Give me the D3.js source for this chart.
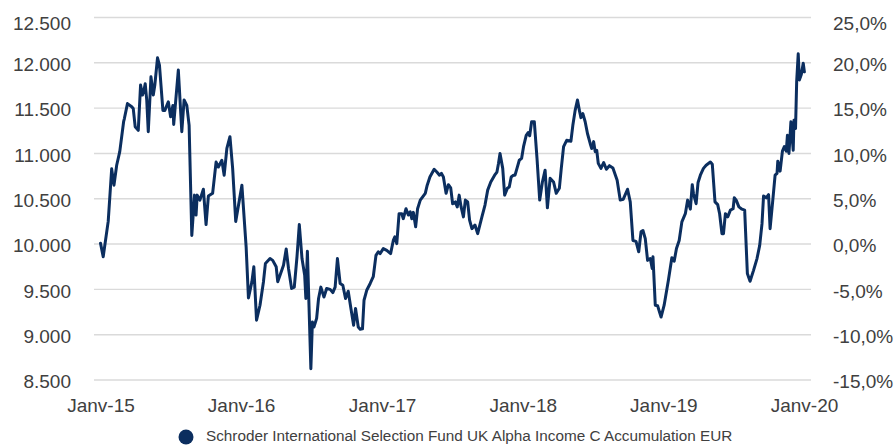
<!DOCTYPE html>
<html><head><meta charset="utf-8">
<script src="https://cdn.jsdelivr.net/npm/d3@7"></script>
<style>
body{margin:0;background:#fff}
svg{display:block;font-family:"Liberation Sans",Arial,Helvetica,sans-serif}
</style></head>
<body><svg id="chart" width="896" height="445"></svg>
<script>
// ---- data ----
const startDate = "2015-01-01";
const xTickDates = ["2015-01-01","2016-01-01","2017-01-01","2018-01-01","2019-01-01","2020-01-01"];
const xTickLabels = ["Janv-15","Janv-16","Janv-17","Janv-18","Janv-19","Janv-20"];
const leftTicks = [8500,9000,9500,10000,10500,11000,11500,12000,12500];
const rightTicks = [-15,-10,-5,0,5,10,15,20,25];
const seriesName = "Schroder International Selection Fund UK Alpha Income C Accumulation EUR";
// [weeks since start, value]
const weeklyNav = [
[0,10010],[1,9860],[2.9,10250],[4.2,10830],[5,10650],[6,10870],[7.2,11020],[8.5,11350],[8.8,11385],[10,11550],[11.6,11515],[12.2,11495],[12.9,11295],[14,11255],[14.9,11755],[15.5,11645],[16.1,11700],[16.6,11770],[17.1,11590],[17.7,11240],[18.7,11845],[19.6,11645],[20.2,11755],[21.1,12055],[21.8,11975],[23.1,11475],[23.9,11475],[25.1,11570],[26,11405],[26.8,11530],[27.2,11320],[28.9,11920],[30.1,11240],[31,11590],[32,11530],[32.9,11310],[33.9,10095],[34.8,10540],[35.4,10320],[35.9,10540],[36.9,10485],
[38.1,10605],[39.1,10215],[40,10530],[41.6,10560],[42.8,10905],[43.7,10850],[45,10925],[45.8,10760],[46.8,11055],[48,11185],[49,10835],[50.1,10250],[52.4,10650],[54,9970],[54.8,9405],[56.1,9585],[56.9,9750],[57.9,9160],[59.2,9325],[60.4,9585],[61.1,9785],[62.9,9840],[63.9,9820],[65.1,9750],[65.7,9585],[66.6,9655],[67.8,9765],[68.8,9945],[69.7,9730],[70.9,9510],[71.8,9525],[72.8,9860],[73.7,10215],[74.7,9840],[75.7,9655],[76.2,9400],[76.7,9920],[78,8625],[78.6,9140],[79.2,9085],[80.2,9180],[80.8,9400],[81.7,9525],[82.9,9415],[83.9,9510],[85.1,9500],[86.1,9465],[87,9525],[87.8,9840],[88.8,9565],[89.8,9545],[90.8,9400],[91.8,9480],[92.8,9290],[93.8,9105],[94.5,9290],[95.5,9085],[96.3,9060],[97.1,9065],[97.7,9380],[98.7,9490],[100,9565],[101.2,9640],[102.2,9875],[103,9915],[103.7,9895],
[104.9,9950],[106.2,9930],[107.6,9895],[108.6,10040],[109.2,10080],[109.9,10005],[110.7,10335],[111.7,10335],[112.3,10280],[113.3,10390],[114.2,10320],[114.8,10355],[115.4,10280],[116,10350],[116.9,10190],[117.5,10390],[118.5,10485],[120.4,10560],[121.2,10650],[122.2,10740],[123.7,10825],[124.7,10795],[125.7,10760],[126.4,10780],[127.2,10740],[128.2,10560],[129,10655],[129.9,10620],[130.6,10445],[131.5,10465],[132.3,10410],[133,10540],[133.7,10410],[134.6,10300],[135.3,10485],[136.1,10465],[136.8,10265],[137.7,10170],[138.9,10210],[139.9,10115],[141.4,10300],[142.6,10430],[143.5,10595],[144.7,10685],[146.1,10760],[147,10795],[147.6,10890],[148.2,11000],[149.2,10835],[149.8,10540],[150.9,10615],[151.6,10630],[152.3,10740],[153.1,10760],[153.7,10760],[154.4,10835],[155.3,10925],[156.1,10945],[156.8,11075],[157.8,11200],[158.6,11230],[159.1,11195],[159.9,11350],[160.8,11350],[161.8,10945],[162.8,10485],[163.8,10685],[164.8,10815],[165.7,10400],[166.7,10725],[168,10685],[169,10560],[170.2,10615],[170.9,10835],[171.7,11075],[172.9,11145],[174.4,11135],[175.1,11310],[176,11475],[176.9,11590],[177.6,11475],[178.2,11395],[178.9,11440],[179.7,11350],[180.6,11220],[181.6,11110],[182.2,11055],[182.8,11130],[183.4,11020],[184,11035],[184.6,10890],[185.5,10835],
[186.5,10900],[187.5,10825],[188.7,10865],[190,10840],[191.5,10705],[192.7,10485],[193.9,10495],[195.4,10605],[196.4,10465],[197.4,10040],[198.6,10030],[199.6,9915],[200.4,10135],[201.1,10150],[202,10060],[202.8,9820],[203.8,9840],[204.5,9730],[204.8,9860],[205.7,9325],[206.5,9320],[207.8,9195],[209,9325],[210.6,9600],[211.9,9850],[212.7,9810],[213.5,9950],[214.6,10040],[215.6,10245],[216.8,10335],[217.7,10485],[218.7,10385],[219.4,10655],[219.9,10560],[220.8,10445],[221.6,10680],[222.4,10760],[223.6,10835],[224.6,10870],[226.1,10905],[226.8,10880],[227.8,10465],[228.8,10435],[229.5,10335],[230.4,10115],[231,10115],[231.7,10335],[232.6,10300],[233.5,10375],[234.5,10390],[235,10510],[235.7,10485],[236.7,10410],[237.8,10385],[238.8,10375],[239.9,9675],[240.9,9590],[242.1,9710],[243.4,9840],[244.4,9985],[245.3,10225],[245.8,10530],[246.8,10510],[247.7,10545],[248.3,10170],[249.3,10485],[250.1,10760],[250.8,10780],[251.2,10915],[252,10805],[252.9,11025],[253.6,11075],[254.3,11025],[254.7,11200],[255.3,11000],[256,11350],[256.8,11035],[257.2,11365],[257.7,11275],[258.2,11795],[258.7,12100],[259.2,11810],[259.9,11870],[260.5,11995],[261,11900]
];

// ---- chart ----
const svg = d3.select("#chart");
const parse = d3.timeParse("%Y-%m-%d");
const start = parse(startDate);
const series = weeklyNav.map(([w, v]) => ({date: d3.timeDay.offset(start, Math.round(w * 7)), value: v}));

const x = d3.scaleTime().domain([parse(xTickDates[0]), parse(xTickDates[xTickDates.length - 1])]).range([100.5, 804]);
const y = d3.scaleLinear().domain([8500, 12500]).range([380, 17.5]);
const yR = d3.scaleLinear().domain([-15, 25]).range([380, 17.5]);

const textColor = "#404040";
const navy = "#0b2e5f";

// gridlines
svg.append("g").selectAll("line").data(leftTicks).join("line")
  .attr("x1", 94).attr("x2", 811)
  .attr("y1", d => y(d)).attr("y2", d => y(d))
  .attr("stroke", "#dadada").attr("stroke-width", 1.4);

const fmtLeft = d => d3.format(",")(d).replace(",", ".");
const fmtRight = d => d3.format(".1f")(d).replace("\u2212", "-").replace(".", ",") + "%";

const gl = svg.append("g").attr("transform", "translate(71,0)")
  .call(d3.axisLeft(y).tickValues(leftTicks).tickFormat(fmtLeft).tickSize(0).tickPadding(0));
const gr = svg.append("g").attr("transform", "translate(833,0)")
  .call(d3.axisRight(yR).tickValues(rightTicks).tickFormat(fmtRight).tickSize(0).tickPadding(0));
[gl, gr].forEach(g => {
  g.select(".domain").remove();
  g.selectAll("text").attr("font-size", 19).attr("fill", textColor)
    .attr("font-family", '"Liberation Sans",Arial,sans-serif')
    .attr("dy", "0.41em")
    .attr("y", (d, i, n) => i === n.length - 1 ? 4 : 0);
});

const gx = svg.append("g").attr("transform", "translate(0,398.5)")
  .call(d3.axisBottom(x).tickValues(xTickDates.map(parse))
    .tickFormat((d, i) => xTickLabels[i]).tickSize(0).tickPadding(0));
gx.select(".domain").remove();
gx.selectAll("text").attr("font-size", 19).attr("fill", textColor)
  .attr("font-family", '"Liberation Sans",Arial,sans-serif');

// line
svg.append("path").datum(series)
  .attr("fill", "none").attr("stroke", navy).attr("stroke-width", 3)
  .attr("stroke-linejoin", "round").attr("stroke-linecap", "round")
  .attr("d", d3.line().x(d => x(d.date)).y(d => y(d.value)));

// legend
const lg = svg.append("g");
lg.append("circle").attr("cx", 186).attr("cy", 437).attr("r", 7.5).attr("fill", navy);
lg.append("text").attr("x", 206).attr("y", 440.5).attr("font-size", 15.3)
  .attr("fill", textColor).text(seriesName);
</script>
</body></html>
